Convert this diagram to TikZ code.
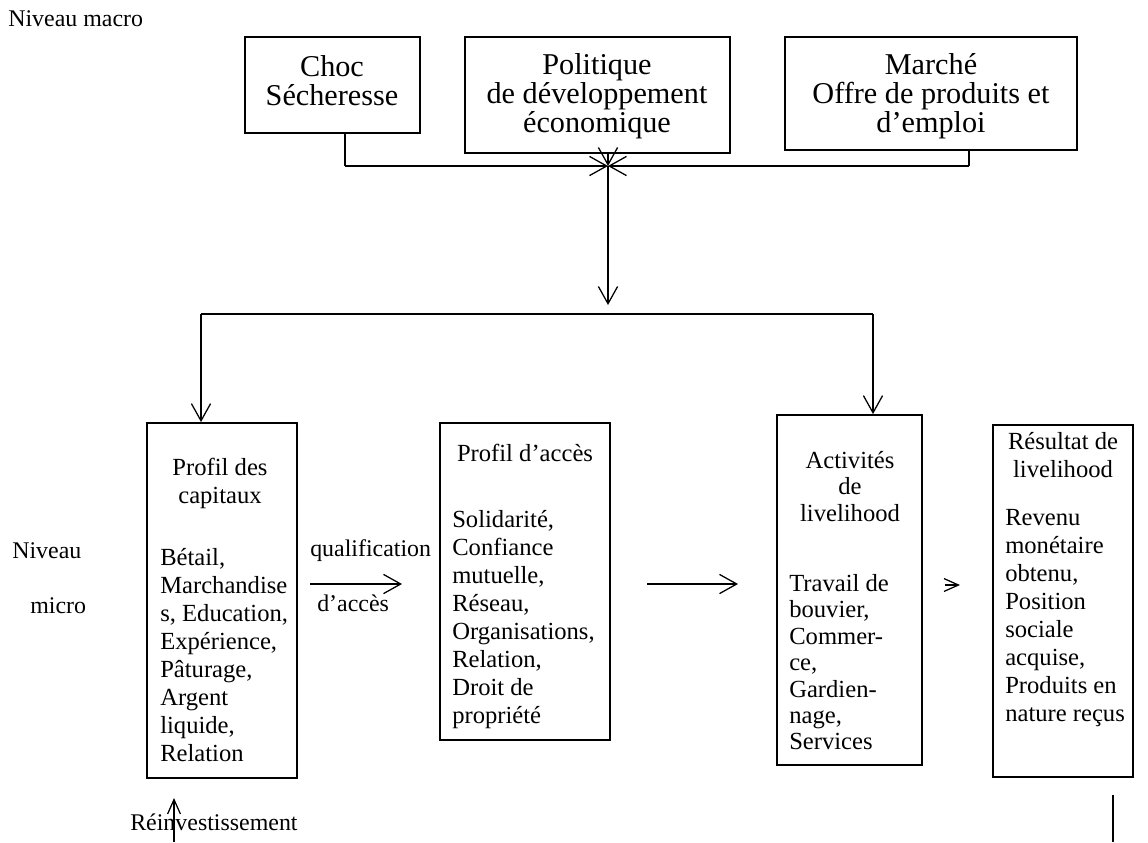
\documentclass[tikz,border=0pt]{standalone}
\usepackage{fontspec}
\setmainfont{Liberation Serif}
\usetikzlibrary{arrows.meta,positioning,fit}

\begin{document}
\begin{tikzpicture}[x=0.025cm,y=-0.025cm,
  box/.style={draw,line width=1.3pt,inner sep=0pt},
  edge/.style={-{Straight Barb[length=4.3mm,width=4.8mm]},line width=0.9pt},
  tinyedge/.style={-{Straight Barb[length=3.6mm,width=3.2mm]},line width=0.9pt},
  plain/.style={line width=0.9pt},
  big/.style={font=\fontsize{21.5}{20.6}\selectfont,align=center,inner sep=0pt},
  body/.style={font=\fontsize{17.5}{19.9}\selectfont,inner sep=0pt},
  lab/.style={font=\fontsize{17}{19.9}\selectfont,inner sep=0pt,anchor=base west}]
\useasboundingbox (0,0) rectangle (1148,842);
%levels
\node[lab] (macro) at (8,26) {Niveau macro};
\node[lab] (niv) at (12,558) {Niveau};
\node[lab] (mic) at (30,613) {micro};
%top boxes
\node[box,fit={(245,37) (420,133)}] (choc) {};
\node[box,fit={(465,37) (730,153)}] (pol) {};
\node[box,fit={(785,37) (1077,150)}] (mar) {};
\node[big] (choct) at (332,81) {Choc\\Sécheresse};
\node[big] (polt) at (597,96) {Politique\\de développement\\économique};
\node[big] (mart) at (931,96) {Marché\\Offre de produits et\\d’emploi};
%gathering the three influences
\coordinate (chocfoot) at (345,133); \coordinate (jl) at (345,166);
\coordinate (jc) at (608,166);
\coordinate (marfoot) at (969,150); \coordinate (jr) at (969,166);
\draw[plain] (chocfoot) -- (jl); \draw[edge] (jl) -- (jc);
\draw[plain] (marfoot) -- (jr); \draw[edge] (jr) -- (jc);
\draw[edge] (pol.south -| jc) -- (jc);
\coordinate (jdown) at (608,305);
\draw[edge] (jc) -- (jdown);
%split towards the micro level
\coordinate (bl) at (201,314); \coordinate (br) at (873,314);
\draw[plain] (bl) -- (br);
%bottom boxes
\node[box,fit={(147,423) (297,778)}] (cap) {};
\node[box,fit={(440,423) (610,740)}] (acc) {};
\node[box,fit={(777,415) (922,765)}] (act) {};
\node[box,fit={(993,425) (1133,777)}] (res) {};
\draw[edge] (bl) -- (bl |- cap.north);
\draw[edge] (br) -- (br |- act.north);
%box texts
\node[body,align=center,anchor=north] (capt) at (220,458) {Profil des\\capitaux};
\node[body,align=left,anchor=north west] (capb) at (160,548) {Bétail,\\Marchandise\\s, Education,\\Expérience,\\Pâturage,\\Argent\\liquide,\\Relation};
\node[body,align=center,anchor=north] (acct) at (525,444) {Profil d’accès};
\node[body,align=left,anchor=north west] (accb) at (452,510) {Solidarité,\\Confiance\\mutuelle,\\Réseau,\\Organisations,\\Relation,\\Droit de\\propriété};
\node[body,align=center,anchor=north,font=\fontsize{17.5}{18.8}\selectfont] (actt) at (850,451) {Activités\\de\\livelihood};
\node[body,align=left,anchor=north west,font=\fontsize{17.5}{18.8}\selectfont] (actb) at (789,574) {Travail de\\bouvier,\\Commer-\\ce,\\Gardien-\\nage,\\Services};
\node[body,align=center,anchor=north] (rest) at (1063,432) {Résultat de\\livelihood};
\node[body,align=left,anchor=north west] (resb) at (1005,509) {Revenu\\monétaire\\obtenu,\\Position\\sociale\\acquise,\\Produits en\\nature reçus};
%arrows between the boxes
\node[lab] (qual) at (310,556) {qualification};
\node[lab] (dacc) at (317,611) {d’accès};
\coordinate (q1) at (310,584); \coordinate (q2) at (402,584);
\draw[edge] (q1) -- (q2);
\coordinate (m1) at (647,584); \coordinate (m2) at (738,584);
\draw[edge] (m1) -- (m2);
\coordinate (s1) at (945,585); \coordinate (s2) at (960,585);
\draw[tinyedge] (s1) -- (s2);
%feedback
\node[lab] (reinv) at (130,830) {Réinvestissement};
\coordinate (r1) at (174,842); \coordinate (r2) at (174,798);
\draw[tinyedge] (r1) -- (r2);
\coordinate (e1) at (1113,795); \coordinate (e2) at (1113,842);
\draw[plain] (e1) -- (e2);
\end{tikzpicture}
\end{document}
